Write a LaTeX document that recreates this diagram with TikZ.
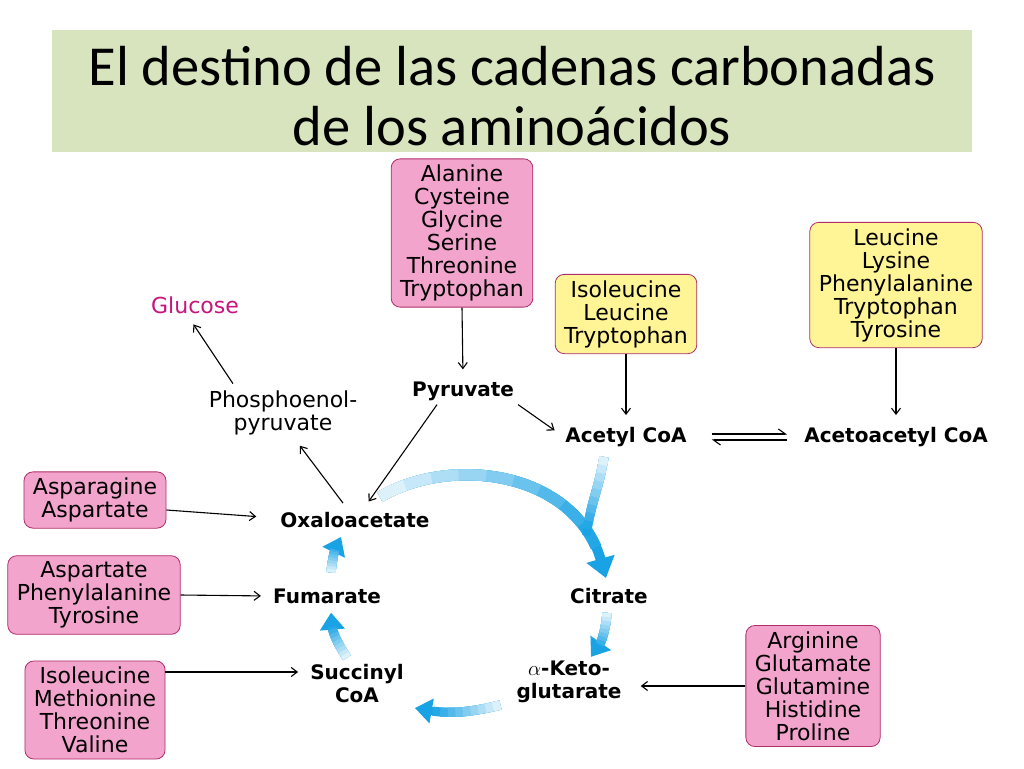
\documentclass[tikz,border=0pt]{standalone}
\usepackage{fontspec}
\setmainfont{DejaVu Sans}
\newfontfamily\titlefont{Carlito}
\usetikzlibrary{arrows.meta}

\definecolor{titlebg}{RGB}{215,228,189}
\definecolor{pinkfill}{RGB}{242,164,204}
\definecolor{yellowfill}{RGB}{255,244,150}
\definecolor{boxline}{RGB}{175,45,105}
\definecolor{glucosecol}{RGB}{200,20,125}
\definecolor{cycleblue}{RGB}{25,162,228}

% blue cycle arrow, paler towards its tail: #1 options, #2 length of the path, #3 the path
\newcommand\tcaarrow[3][]{%
    \draw[tcabase, #1, tcahead] #3;
    \foreach \k [evaluate=\k as \seglen using \k*#2/10, evaluate=\k as \pc using int(10*\k+5)] in {9,...,1}
        \draw[tcabase, #1, -, tcacut, line width=\pgflinewidth+1.2pt, cycleblue!\pc!white,
            dash pattern=on \seglen pt off 2000pt] #3;
}

\begin{document}
\begin{tikzpicture}[x=1pt, y=-1pt,
    >={Straight Barb[length=6pt,width=9pt]},
    aabox/.style={draw=boxline, line width=0.8pt, rounded corners=9pt, align=center,
        inner xsep=9pt, inner ysep=6pt, font=\fontsize{22pt}{23pt}\selectfont},
    pinkbox/.style={aabox, fill=pinkfill},
    yellowbox/.style={aabox, fill=yellowfill},
    metab/.style={align=center, inner sep=4pt, font=\fontsize{20pt}{23pt}\selectfont\bfseries},
    plainlabel/.style={align=center, inner sep=4pt, font=\fontsize{22pt}{23pt}\selectfont},
    link/.style={->, line width=1.1pt, shorten >=8pt},
    harpoon/.style={-{Straight Barb[left,length=7pt,width=10pt]}, line width=1.1pt},
    tcabase/.style={cycleblue, line width=8pt},
    tcahead/.style={-{Triangle[width=24pt,length=17pt]}},
    tcacut/.style={shorten >=14pt}]
    \useasboundingbox (0,0) rectangle (1024,768);

    \node[fill=titlebg, minimum width=920pt, minimum height=122pt] (banner) at (512,91) {};
    \node[align=center, font=\titlefont\fontsize{56.5pt}{60pt}\selectfont] (title)
        at ([yshift=-5pt]banner.center) {El destino de las cadenas carbonadas\\de los aminoácidos};

    % amino acid boxes
    \node[pinkbox] (ala) at (462,233) {Alanine\\Cysteine\\Glycine\\Serine\\Threonine\\Tryptophan};
    \node[yellowbox] (ilt) at (626,314) {Isoleucine\\Leucine\\Tryptophan};
    \node[yellowbox] (llpt) at (896,285) {Leucine\\Lysine\\Phenylalanine\\Tryptophan\\Tyrosine};
    \node[pinkbox] (asn) at (95,500) {Asparagine\\Aspartate};
    \node[pinkbox] (apt) at (94,595) {Aspartate\\Phenylalanine\\Tyrosine};
    \node[pinkbox] (imtv) at (95,710) {Isoleucine\\Methionine\\Threonine\\Valine};
    \node[pinkbox] (agghp) at (813,686) {Arginine\\Glutamate\\Glutamine\\Histidine\\Proline};

    % metabolites
    \node[plainlabel, text=glucosecol] (glu) at (195,305) {Glucose};
    \node[plainlabel] (pep) at (283,413) {Phosphoenol-\\pyruvate};
    \node[metab] (pyr) at (463,391) {Pyruvate};
    \node[metab] (acc) at (626,437) {Acetyl CoA};
    \node[metab] (aac) at (896,437) {Acetoacetyl CoA};
    \node[metab] (oxa) at (355,520) {Oxaloacetate};
    \node[metab] (fum) at (327,596) {Fumarate};
    \node[metab] (cit) at (609,596) {Citrate};
    \node[metab] (suc) at (357,684) {Succinyl\\CoA};
    \node[metab] (akg) at (569,682) {$\alpha$-Keto-\\glutarate};

    \draw[link] (ala.south) -- (pyr.north);
    \draw[link] ([xshift=-50pt,yshift=3pt]pep.north) -- ([xshift=-6pt]glu.south);
    \draw[link] ([xshift=-12pt,yshift=5pt]oxa.north) -- ([xshift=12pt]pep.south);
    \draw[link] ([xshift=-26pt]pyr.south) -- ([xshift=9pt]oxa.north);
    \draw[link] (pyr.south east) -- ([yshift=2pt]acc.west);
    \draw[link] (ilt.south) -- (acc.north);
    \draw[link] (llpt.south) -- (aac.north);
    \draw[link, shorten >=20pt] ([yshift=-10pt]asn.east) -- ([yshift=2pt]oxa.west);
    \draw[link] (apt.east) -- (fum.west);
    \draw[link] ([yshift=38pt]imtv.east) -- ([yshift=12pt]suc.west);
    \draw[link, shorten >=15pt] (agghp.west) -- (agghp.west -| akg.east);

    \draw[harpoon, shorten <=21pt, shorten >=13pt] ([yshift=3pt]acc.east) -- ([yshift=3pt]aac.west);
    \draw[harpoon, shorten <=13pt, shorten >=21pt] ([yshift=-3pt]aac.west) -- ([yshift=-3pt]acc.east);

    % citric acid cycle
    \tcaarrow[line width=10pt, tcahead/.style={-{Triangle[width=28pt,length=20pt]}},
        tcacut/.style={shorten >=17pt}]{275}
        {([xshift=25pt,yshift=11pt]oxa.north) .. controls +(70,-42) and +(-31,-108) ..
         ([xshift=-3pt,yshift=6pt]cit.north) coordinate[pos=0.85] (join)}
    \tcaarrow[tcahead/.style={-}, tcacut/.style={}]{82}
        {([xshift=-22pt,yshift=-6pt]acc.south) .. controls +(-6,35) and +(5,-35) .. (join)}
    \tcaarrow{40}{([xshift=-2pt,yshift=-5pt]cit.south) to[bend left=15] ([xshift=22pt]akg.north)}
    \tcaarrow{76}{([xshift=-12pt,yshift=-23pt]akg.west) to[bend left=12] ([xshift=7pt,yshift=-24pt]suc.east)}
    \tcaarrow{40}{([xshift=-10pt,yshift=3pt]suc.north) to[bend left=15] ([xshift=4pt,yshift=-5pt]fum.south)}
    \tcaarrow{30}{([xshift=4pt,yshift=12pt]fum.north) to[bend left=10] ([xshift=-14pt,yshift=-5pt]oxa.south)}
\end{tikzpicture}
\end{document}
